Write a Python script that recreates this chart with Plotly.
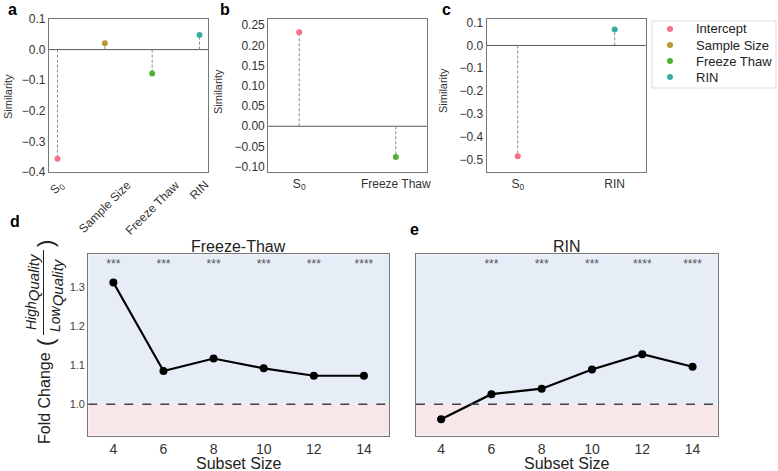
import plotly.graph_objects as go

W, H = 778, 471

# ---------------- data ----------------
a_terms = ["Intercept", "Sample Size", "Freeze Thaw", "RIN"]
a_ticks = ["S<sub>0</sub>", "Sample Size", "Freeze Thaw", "RIN"]
a_vals = [-0.357, 0.021, -0.078, 0.048]

b_terms = ["Intercept", "Freeze Thaw"]
b_ticks = ["S<sub>0</sub>", "Freeze Thaw"]
b_vals = [0.232, -0.076]

c_terms = ["Intercept", "RIN"]
c_ticks = ["S<sub>0</sub>", "RIN"]
c_vals = [-0.486, 0.070]

legend_terms = ["Intercept", "Sample Size", "Freeze Thaw", "RIN"]
term_colors = {"Intercept": "#f77189", "Sample Size": "#bb9832",
               "Freeze Thaw": "#50b131", "RIN": "#36ada4"}

subset_sizes = [4, 6, 8, 10, 12, 14]
ft_fold = [1.311, 1.085, 1.117, 1.092, 1.073, 1.073]
ft_stars = ["***", "***", "***", "***", "***", "****"]
rin_fold = [0.962, 1.026, 1.040, 1.089, 1.128, 1.096]
rin_stars = ["", "***", "***", "***", "****", "****"]

FONT = "Arial, Liberation Sans, sans-serif"


def px_x(p):
    return p / W


def px_y(p):
    return 1 - p / H


fig = go.Figure()

# ---------- top panels (lollipop) ----------
panels = [
    ("x", "y", a_terms, a_vals),
    ("x2", "y2", b_terms, b_vals),
    ("x3", "y3", c_terms, c_vals),
]
for xa, ya, terms, vals in panels:
    sx, sy = [], []
    for i, v in enumerate(vals):
        sx += [i, i, None]
        sy += [0, v, None]
    fig.add_trace(go.Scatter(x=sx, y=sy, mode="lines", xaxis=xa, yaxis=ya,
                             line=dict(color="#8a8a8a", width=1, dash="3px,2px"),
                             showlegend=False, hoverinfo="skip"))
    fig.add_trace(go.Scatter(x=list(range(len(vals))), y=vals, mode="markers", xaxis=xa, yaxis=ya,
                             marker=dict(color=[term_colors[t] for t in terms], size=6),
                             showlegend=False))

# ---------- legend (drawn on its own hidden axis) ----------
fig.add_trace(go.Scatter(x=[0] * len(legend_terms), y=list(range(len(legend_terms))),
                         mode="markers", xaxis="x6", yaxis="y6",
                         marker=dict(color=[term_colors[t] for t in legend_terms], size=6),
                         showlegend=False, hoverinfo="skip"))

# ---------- bottom panels ----------
for xa, ya, vals, stars in [("x4", "y4", ft_fold, ft_stars), ("x5", "y5", rin_fold, rin_stars)]:
    fig.add_trace(go.Scatter(x=subset_sizes, y=vals, mode="lines+markers", xaxis=xa, yaxis=ya,
                             line=dict(color="black", width=2.2),
                             marker=dict(color="black", size=8), showlegend=False))
    sx = [s for s, st in zip(subset_sizes, stars) if st]
    st = [st for st in stars if st]
    fig.add_trace(go.Scatter(x=sx, y=[1.355] * len(st), mode="text", text=st,
                             xaxis=xa, yaxis=ya, textfont=dict(size=12, color="#555", family=FONT),
                             showlegend=False, hoverinfo="skip"))

# ---------- axes ----------
frame = dict(showline=True, mirror=True, linecolor="#777", linewidth=1.3,
             showgrid=False, zeroline=False, ticks="", automargin=False)
tickf_top = dict(size=12, color="#333", family=FONT)

Y_TOP, Y_BOT = px_y(19), px_y(172)
fig.update_layout(
    xaxis=dict(domain=[px_x(49), px_x(208)], range=[-0.18, 3.18], anchor="y",
               tickvals=[0, 1, 2, 3], showticklabels=False, **frame),
    yaxis=dict(domain=[Y_BOT, Y_TOP], range=[-0.4, 0.1], anchor="x",
               tickvals=[-0.4, -0.3, -0.2, -0.1, 0.0, 0.1], tickformat=".1f",
               tickfont=tickf_top, **frame),
    xaxis2=dict(domain=[px_x(268.3), px_x(426.7)], range=[-0.32, 1.32], anchor="y2",
                tickvals=[0, 1], ticktext=b_ticks, tickfont=tickf_top, **frame),
    yaxis2=dict(domain=[Y_BOT, Y_TOP], range=[-0.113, 0.265], anchor="x2",
                tickvals=[-0.10, -0.05, 0.0, 0.05, 0.10, 0.15, 0.20, 0.25], tickformat=".2f",
                tickfont=tickf_top, **frame),
    xaxis3=dict(domain=[px_x(486.7), px_x(645.7)], range=[-0.32, 1.32], anchor="y3",
                tickvals=[0, 1], ticktext=c_ticks, tickfont=tickf_top, **frame),
    yaxis3=dict(domain=[Y_BOT, Y_TOP], range=[-0.555, 0.116], anchor="x3",
                tickvals=[-0.5, -0.4, -0.3, -0.2, -0.1, 0.0, 0.1], tickformat=".1f",
                tickfont=tickf_top, **frame),
)

YB_TOP, YB_BOT = px_y(254.3), px_y(435.7)
tickf_bx = dict(size=14, color="#333", family=FONT)
fig.update_layout(
    xaxis4=dict(domain=[px_x(88.3), px_x(389)], range=[3, 15], anchor="y4",
                tickvals=subset_sizes, tickfont=tickf_bx, **frame),
    yaxis4=dict(domain=[YB_BOT, YB_TOP], range=[0.92, 1.383], anchor="x4",
                tickvals=[1.0, 1.1, 1.2, 1.3], tickformat=".1f",
                tickfont=dict(size=11, color="#444", family=FONT), **frame),
    xaxis5=dict(domain=[px_x(416), px_x(717.7)], range=[3, 15], anchor="y5",
                tickvals=subset_sizes, tickfont=tickf_bx, **frame),
    yaxis5=dict(domain=[YB_BOT, YB_TOP], range=[0.92, 1.383], anchor="x5",
                showticklabels=False, **frame),
    # legend box axis: 1 unit = 1 px horizontally, 1 row = 16 px vertically
    xaxis6=dict(domain=[px_x(652), px_x(776)], range=[-18, 106], anchor="y6", visible=False),
    yaxis6=dict(domain=[px_y(88), px_y(21)], range=[3.6875, -0.5], anchor="x6", visible=False),
)

# ---------- shapes ----------
shapes = []
for ya in ["y", "y2", "y3"]:
    xa = ya.replace("y", "x")
    shapes.append(dict(type="line", xref=f"{xa} domain", yref=ya, x0=0, x1=1, y0=0, y1=0,
                       line=dict(color="#555", width=1), layer="below"))
for xa, ya in [("x4", "y4"), ("x5", "y5")]:
    shapes.append(dict(type="rect", xref=f"{xa} domain", yref=ya, x0=0, x1=1, y0=1.0, y1=1.383,
                       fillcolor="#e6edf7", line=dict(width=0), layer="below"))
    shapes.append(dict(type="rect", xref=f"{xa} domain", yref=ya, x0=0, x1=1, y0=0.92, y1=1.0,
                       fillcolor="#f7e7e8", line=dict(width=0), layer="below"))
    shapes.append(dict(type="line", xref=f"{xa} domain", yref=ya, x0=0, x1=1, y0=1.0, y1=1.0,
                       line=dict(color="#444", width=1.5, dash="dash")))
# legend frame
shapes.append(dict(type="rect", xref="x6 domain", yref="y6 domain", x0=0, x1=1, y0=0, y1=1,
                   line=dict(color="#dddddd", width=1), layer="below"))
# fraction bar in y-axis label of d
shapes.append(dict(type="line", xref="paper", yref="paper", x0=px_x(43.5), x1=px_x(43.5),
                   y0=px_y(250), y1=px_y(335), line=dict(color="#222", width=1)))

# ---------- annotations ----------
ann = []


def add_text(text, x, y, size, color="#222", angle=0, xanchor="center", yanchor="middle", **kw):
    d = dict(text=text, x=x, y=y, xref="paper", yref="paper", showarrow=False,
             textangle=angle, xanchor=xanchor, yanchor=yanchor,
             font=dict(size=size, color=color, family=FONT))
    d.update(kw)
    ann.append(d)


for txt, x, y in [("a", 13, 10), ("b", 225, 10), ("c", 446, 10), ("d", 15, 221), ("e", 414, 229)]:
    add_text(f"<b>{txt}</b>", px_x(x), px_y(y), 16, color="black")
for x, y in [(8, 97), (218, 92), (443, 91)]:
    add_text("Similarity", px_x(x), px_y(y), 11, color="#333", angle=-90)
# rotated tick labels of panel a
for i, t in enumerate(a_ticks):
    add_text(t, i, px_y(175), 12, color="#333", angle=-45, yanchor="top", xref="x")
# legend labels
for i, t in enumerate(legend_terms):
    add_text(t, 24, i, 13, xanchor="left", xref="x6", yref="y6")
# titles and x titles of d / e
for t, xa in [("Freeze-Thaw", "x4"), ("RIN", "x5")]:
    add_text(t, 0.5, px_y(246), 16, xref=f"{xa} domain")
    add_text("Subset Size", 0.5, px_y(463.5), 16, xref=f"{xa} domain")
# y-axis label of d
add_text("Fold Change", px_x(44), px_y(398), 16, angle=-90)
add_text("<i>High</i><sub><i><span style='font-size:15px'>Quality</span></i></sub>",
         px_x(32), px_y(291), 14, angle=-90)
add_text("<i>Low</i><sub><i><span style='font-size:15px'>Quality</span></i></sub>",
         px_x(56), px_y(295), 14, angle=-90)
add_text("(", px_x(45), px_y(342), 22, angle=-90)
add_text(")", px_x(45), px_y(244), 22, angle=-90)

fig.update_layout(
    template="none",
    width=W, height=H, margin=dict(l=0, r=0, t=0, b=0, autoexpand=False),
    paper_bgcolor="white", plot_bgcolor="white",
    shapes=shapes, annotations=ann, showlegend=False,
    font=dict(family=FONT),
    hovermode=False,
)

fig.write_html("out.html", config={"displayModeBar": False},
               post_script="document.body.style.margin='0px';")
